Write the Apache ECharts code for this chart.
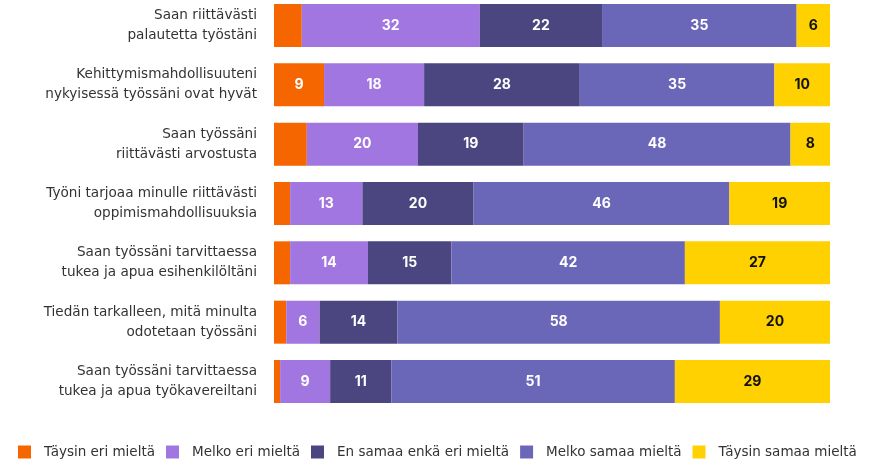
<!DOCTYPE html>
<html>
<head>
<meta charset="utf-8">
<script src="https://cdn.jsdelivr.net/npm/echarts@6/dist/echarts.min.js"></script>
<style>
	html, body { margin: 0; padding: 0; background: #fff; }
	#chart { width: 877px; height: 462px; }
</style>
</head>
<body>
<div id="chart"></div>
<script>
var categories = [
	'Saan riittävästi\npalautetta työstäni',
	'Kehittymismahdollisuuteni\nnykyisessä työssäni ovat hyvät',
	'Saan työssäni\nriittävästi arvostusta',
	'Työni tarjoaa minulle riittävästi\noppimismahdollisuuksia',
	'Saan työssäni tarvittaessa\ntukea ja apua esihenkilöltäni',
	'Tiedän tarkalleen, mitä minulta\nodotetaan työssäni',
	'Saan työssäni tarvittaessa\ntukea ja apua työkavereiltani'
];

var seriesNames = ['Täysin eri mieltä', 'Melko eri mieltä', 'En samaa enkä eri mieltä', 'Melko samaa mieltä', 'Täysin samaa mieltä'];

// orange values are not labelled in the picture
var taysinEri = [5, 9, 5.9, 2.9, 2.9, 2.2, 1.1];
var melkoEri = [32, 18, 20, 13, 14, 6, 9];
var enSamaa = [22, 28, 19, 20, 15, 14, 11];
var melkoSamaa = [35, 35, 48, 46, 42, 58, 51];
var taysinSamaa = [6, 10, 8, 19, 27, 20, 29];

var colors = ['#F56600', '#A276E0', '#4B4580', '#6B67B8', '#FFD100'];
var labelColors = ['#fff', '#fff', '#fff', '#fff', '#111'];

var values = [taysinEri, melkoEri, enSamaa, melkoSamaa, taysinSamaa];

var chart = echarts.init(document.getElementById('chart'));

var series = [];
for(var i = 0; i < values.length; i++){
	series.push({
		name: seriesNames[i],
		type: 'bar',
		stack: 'total',
		barWidth: 43,
		itemStyle: { color: colors[i] },
		label: {
			show: true,
			position: 'inside',
			color: labelColors[i],
			fontFamily: 'Inter',
			fontWeight: 'bold',
			fontSize: 14,
			formatter: function(p){
				return p.value >= 6 ? Math.round(p.value) : '';
			}
		},
		emphasis: { disabled: true },
		data: values[i]
	});
}

chart.setOption({
	animation: false,
	color: colors,
	// categories sit on the ticks, so top/bottom are the first/last bar centres
	grid: { left: 274, right: 47, top: 25.5, height: 356, containLabel: false },
	xAxis: {
		type: 'value',
		min: 0,
		max: 100,
		show: false
	},
	yAxis: {
		type: 'category',
		inverse: true,
		boundaryGap: false,
		data: categories,
		axisLine: { show: false },
		axisTick: { show: false },
		axisLabel: {
			margin: 17,
			color: '#333',
			fontFamily: 'DejaVu Sans',
			fontSize: 13.6,
			lineHeight: 20,
			padding: [3, 0, 0, 0],
			align: 'right'
		}
	},
	legend: {
		bottom: 3,
		left: 18,
		padding: 0,
		itemWidth: 13,
		itemHeight: 13,
		itemGap: 11,
		icon: 'rect',
		textStyle: {
			color: '#333',
			fontFamily: 'DejaVu Sans',
			fontSize: 13.5,
			padding: [0, 0, 0, 8]
		},
		data: seriesNames
	},
	series: series
});
</script>
</body>
</html>
